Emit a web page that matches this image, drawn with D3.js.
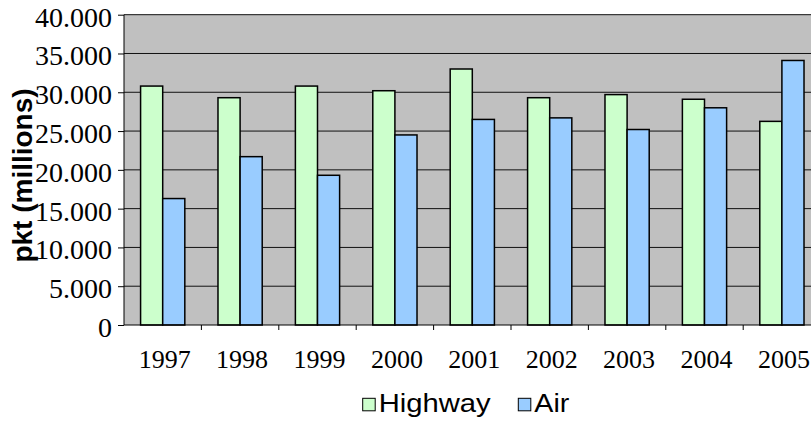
<!DOCTYPE html>
<html>
<head>
<meta charset="utf-8">
<script src="https://cdn.jsdelivr.net/npm/d3@7/dist/d3.min.js"></script>
<style>
  html, body { margin: 0; padding: 0; background: #ffffff; overflow: hidden; }
  svg { display: block; }
  .serif { font-family: "Liberation Serif", "Times New Roman", serif; }
  .sans { font-family: "Liberation Sans", Arial, sans-serif; }
</style>
</head>
<body>
<svg id="chart" width="811" height="422"></svg>
<script>
const years = ["1997", "1998", "1999", "2000", "2001", "2002", "2003", "2004", "2005"];
const highway = [30800, 29300, 30800, 30200, 33000, 29300, 29700, 29100, 26250];
const air = [16300, 21700, 19300, 24500, 26500, 26700, 25200, 28000, 34100];
const seriesNames = ["Highway", "Air"];
const seriesColors = ["#ccffcc", "#99ccff"];
const yTicks = [0, 5000, 10000, 15000, 20000, 25000, 30000, 35000, 40000];
const yTickLabels = ["0", "5.000", "10.000", "15.000", "20.000", "25.000", "30.000", "35.000", "40.000"];
const yTitle = "pkt (millions)";

(function () {
const svg = d3.select("#chart");
const pLeft = 124, pRight = 820.6, pTop = 14.7, pBottom = 325;

const x = d3.scaleBand().domain(years).range([pLeft, pRight]).paddingInner(0).paddingOuter(0);
const bw = x.bandwidth();
const b = bw / 3.5;
const xs = d3.scaleBand().domain(seriesNames).range([0.75 * b, 2.75 * b]);
const y = d3.scaleLinear().domain([0, 40000]).range([pBottom, pTop]);

// plot background
svg.append("rect")
  .attr("x", pLeft).attr("y", pTop)
  .attr("width", pRight - pLeft).attr("height", pBottom - pTop)
  .attr("fill", "#c0c0c0");

// gridlines
svg.append("g").selectAll("line")
  .data(yTicks.filter(d => d > 0))
  .join("line")
  .attr("x1", pLeft).attr("x2", pRight)
  .attr("y1", d => y(d)).attr("y2", d => y(d))
  .attr("stroke", "#111").attr("stroke-width", 1);

// bars
const data = years.map((yr, i) => ({ year: yr, values: [highway[i], air[i]] }));
const groups = svg.append("g").selectAll("g")
  .data(data).join("g")
  .attr("transform", d => `translate(${x(d.year)},0)`);
groups.selectAll("rect")
  .data(d => d.values.map((v, j) => ({ name: seriesNames[j], value: v, color: seriesColors[j] })))
  .join("rect")
  .attr("x", d => xs(d.name))
  .attr("y", d => y(d.value))
  .attr("width", xs.bandwidth())
  .attr("height", d => pBottom - y(d.value))
  .attr("fill", d => d.color)
  .attr("stroke", "#000")
  .attr("stroke-width", 1.5);

// y axis
const yAxis = d3.axisLeft(y)
  .tickValues(yTicks)
  .tickFormat((d, i) => yTickLabels[i])
  .tickSize(6)
  .tickPadding(6);
const gy = svg.append("g").attr("transform", `translate(${pLeft},0)`).call(yAxis);
gy.attr("font-family", null).attr("font-size", null);
gy.select(".domain").attr("stroke", "#000").attr("d", `M0,${pTop}V${pBottom}`);
gy.selectAll(".tick line").attr("stroke", "#000");
gy.selectAll(".tick text")
  .attr("class", "serif")
  .style("font-family", "'Liberation Serif', 'Times New Roman', serif")
  .style("font-size", "28px")
  .attr("fill", "#000")
  .attr("dy", "0.41em");

// x axis line
svg.append("line")
  .attr("x1", pLeft).attr("x2", pRight)
  .attr("y1", pBottom).attr("y2", pBottom)
  .attr("stroke", "#000").attr("stroke-width", 1.2);

// x tick marks at category boundaries
svg.append("g").selectAll("line")
  .data(years.slice(1))
  .join("line")
  .attr("x1", d => x(d)).attr("x2", d => x(d))
  .attr("y1", pBottom).attr("y2", pBottom + 5)
  .attr("stroke", "#000");

// x labels
svg.append("g").selectAll("text")
  .data(years)
  .join("text")
  .attr("class", "serif")
  .attr("x", d => x(d) + bw / 2 + 2)
  .attr("y", 368)
  .attr("text-anchor", "middle")
  .style("font-size", "26px")
  .attr("fill", "#000")
  .text(d => d);

// y title
svg.append("text")
  .attr("class", "sans")
  .attr("transform", "translate(31.5,175.5) rotate(-90)")
  .attr("text-anchor", "middle")
  .style("font-weight", "bold")
  .style("font-size", "28px")
  .attr("fill", "#000")
  .text(yTitle);

// legend
const legendX = [362.7, 518.3];
const legendTextW = [112, 35];
const lg = svg.append("g").selectAll("g")
  .data(seriesNames).join("g")
  .attr("transform", (d, i) => `translate(${legendX[i]},398.3)`);
lg.append("rect")
  .attr("width", 12.5).attr("height", 12.5)
  .attr("fill", (d, i) => seriesColors[i])
  .attr("stroke", "#000").attr("stroke-width", 1);
lg.append("text")
  .attr("class", "sans")
  .attr("x", 16).attr("y", 13.8)
  .style("font-size", "25px")
  .attr("textLength", (d, i) => legendTextW[i])
  .attr("lengthAdjust", "spacingAndGlyphs")
  .attr("fill", "#000")
  .text(d => d);
})();
</script>
</body>
</html>
